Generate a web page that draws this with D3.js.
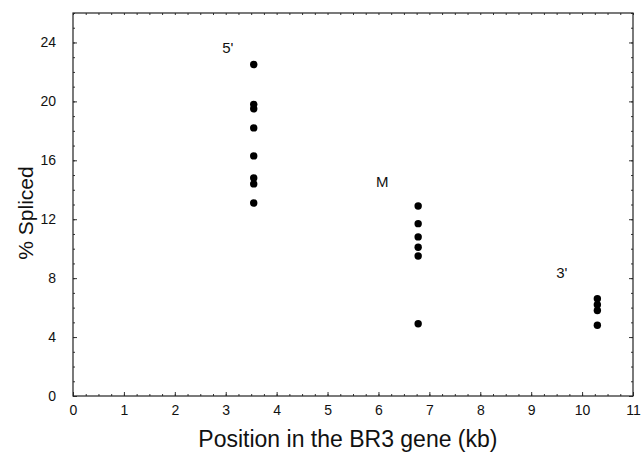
<!DOCTYPE html>
<html>
<head>
<meta charset="utf-8">
<script src="https://cdn.jsdelivr.net/npm/d3@7"></script>
<style>
  body { margin: 0; background: #fff; }
  text { font-family: "Liberation Sans", Arial, sans-serif; fill: #111; }
</style>
</head>
<body>
<div id="chart"></div>
<script>
var svgWidth = 644;
var svgHeight = 452;

var margin = { top: 13, right: 11, bottom: 56, left: 73 };
var width = svgWidth - margin.left - margin.right;
var height = svgHeight - margin.top - margin.bottom;

// data
var fivePrime = [22.5, 19.8, 19.5, 18.2, 16.3, 14.8, 14.4, 13.1];
var middle = [12.9, 11.7, 10.8, 10.1, 9.5, 4.9];
var threePrime = [6.6, 6.2, 5.8, 4.8];
var groupX = [3.55, 6.78, 10.3];
var groupNames = ["5'", "M", "3'"];
var groupLabelPos = [[2.93, 23.3], [5.95, 14.2], [9.49, 8.0]];
var xTicks = [0, 1, 2, 3, 4, 5, 6, 7, 8, 9, 10, 11];
var yTicks = [0, 4, 8, 12, 16, 20, 24];

var groups = [fivePrime, middle, threePrime];
var points = [];
groups.forEach(function(vals, i) {
  vals.forEach(function(v) { points.push({ x: groupX[i], y: v }); });
});

var svg = d3.select("#chart")
  .append("svg")
  .attr("width", svgWidth)
  .attr("height", svgHeight);

var chartGroup = svg.append("g")
  .attr("transform", `translate(${margin.left}, ${margin.top})`);

var xScale = d3.scaleLinear().domain([0, 11]).range([0, width]);
var yScale = d3.scaleLinear().domain([0, 26]).range([height, 0]);

// minor ticks (inside the frame)
var xMinor = d3.range(0, 11.001, 0.25);
var yMinor = d3.range(0, 26.001, 1);

function styleAxis(g) {
  g.select(".domain").remove();
  g.selectAll("line").attr("stroke", "#333").attr("stroke-width", 1);
}

chartGroup.append("g")
  .attr("transform", `translate(0, ${height})`)
  .call(d3.axisBottom(xScale).tickValues(xMinor).tickSize(-2).tickFormat(""))
  .call(styleAxis);
chartGroup.append("g")
  .call(d3.axisTop(xScale).tickValues(xMinor).tickSize(-2).tickFormat(""))
  .call(styleAxis);
chartGroup.append("g")
  .call(d3.axisLeft(yScale).tickValues(yMinor).tickSize(-2).tickFormat(""))
  .call(styleAxis);
chartGroup.append("g")
  .attr("transform", `translate(${width}, 0)`)
  .call(d3.axisRight(yScale).tickValues(yMinor).tickSize(-2).tickFormat(""))
  .call(styleAxis);

// major ticks with labels
chartGroup.append("g")
  .attr("transform", `translate(0, ${height})`)
  .call(d3.axisBottom(xScale).tickValues(xTicks).tickSize(-4).tickPadding(9))
  .call(styleAxis)
  .selectAll("text")
  .style("font-size", "14px");

chartGroup.append("g")
  .call(d3.axisLeft(yScale).tickValues(yTicks).tickSize(-4).tickPadding(17))
  .call(styleAxis)
  .selectAll("text")
  .style("font-size", "14px");

chartGroup.append("g")
  .attr("transform", `translate(${width}, 0)`)
  .call(d3.axisRight(yScale).tickValues(yTicks).tickSize(-4).tickFormat(""))
  .call(styleAxis);

// frame
chartGroup.append("rect")
  .attr("width", width)
  .attr("height", height)
  .attr("fill", "none")
  .attr("stroke", "#222")
  .attr("stroke-width", 1.2);

// points
chartGroup.selectAll("circle")
  .data(points)
  .enter()
  .append("circle")
  .attr("cx", d => xScale(d.x))
  .attr("cy", d => yScale(d.y))
  .attr("r", 3.7)
  .attr("fill", "#000");

// group labels
chartGroup.selectAll(".grp")
  .data(groupNames)
  .enter()
  .append("text")
  .attr("class", "grp")
  .attr("x", (d, i) => xScale(groupLabelPos[i][0]))
  .attr("y", (d, i) => yScale(groupLabelPos[i][1]))
  .style("font-size", "15px")
  .text(d => d);

// axis titles
chartGroup.append("text")
  .attr("transform", "rotate(-90)")
  .attr("x", -200)
  .attr("y", -40)
  .style("text-anchor", "middle")
  .style("font-size", "21px")
  .text("% Spliced");

chartGroup.append("text")
  .attr("x", xScale(5.4))
  .attr("y", height + 51)
  .style("text-anchor", "middle")
  .style("font-size", "23px")
  .text("Position in the BR3 gene (kb)");
</script>
</body>
</html>
